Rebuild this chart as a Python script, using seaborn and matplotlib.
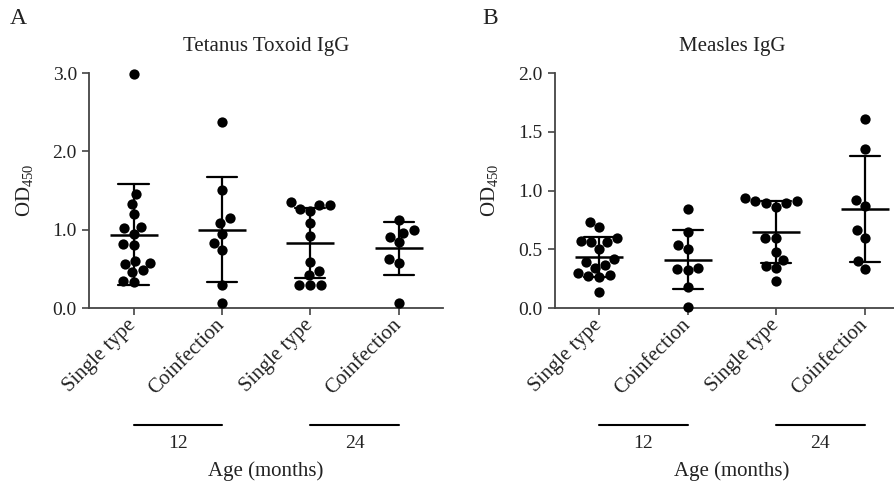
import numpy as np
import pandas as pd
import matplotlib
matplotlib.use("Agg")
import matplotlib.pyplot as plt
import matplotlib.transforms as mtransforms
import seaborn as sns

# Group labels along the x axis and the age each pair belongs to
categories = ["Single type", "Coinfection", "Single type", "Coinfection"]
ages = ["12", "12", "24", "24"]
age_title = "Age (months)"

# Tetanus toxoid IgG, OD450
tt_single_12 = [2.99, 1.45, 1.33, 1.20, 1.04, 1.02, 0.95, 0.80, 0.82, 0.58,
                0.56, 0.60, 0.46, 0.48, 0.33, 0.35]
tt_coinf_12 = [2.37, 1.51, 1.15, 1.08, 0.95, 0.83, 0.74, 0.30, 0.07]
tt_single_24 = [1.32, 1.27, 1.24, 1.31, 1.35, 1.09, 0.92, 0.59, 0.47, 0.42,
                0.29, 0.29, 0.29]
tt_coinf_24 = [1.12, 0.96, 0.99, 0.91, 0.84, 0.63, 0.57, 0.06]

# Measles IgG, OD450
ms_single_12 = [0.73, 0.69, 0.60, 0.56, 0.56, 0.57, 0.50, 0.39, 0.42, 0.37,
                0.34, 0.30, 0.27, 0.26, 0.28, 0.14]
ms_coinf_12 = [0.84, 0.65, 0.54, 0.50, 0.34, 0.32, 0.33, 0.18, 0.01]
ms_single_24 = [0.91, 0.89, 0.86, 0.89, 0.91, 0.94, 0.60, 0.60, 0.48, 0.41,
                0.36, 0.34, 0.23]
ms_coinf_24 = [1.61, 1.35, 0.92, 0.87, 0.66, 0.60, 0.40, 0.33]

panels = [
    ("A", "Tetanus Toxoid IgG", [tt_single_12, tt_coinf_12, tt_single_24, tt_coinf_24],
     3.0, [0.0, 1.0, 2.0, 3.0]),
    ("B", "Measles IgG", [ms_single_12, ms_coinf_12, ms_single_24, ms_coinf_24],
     2.0, [0.0, 0.5, 1.0, 1.5, 2.0]),
]

sns.set_style("ticks")
plt.rcParams["font.family"] = ["Liberation Serif", "DejaVu Serif"]
plt.rcParams["mathtext.fontset"] = "custom"
plt.rcParams["mathtext.rm"] = "Liberation Serif"

fig = plt.figure(figsize=(8.95, 4.84), dpi=100)
positions = [[0.0998, 0.3636, 0.395, 0.4855], [0.620, 0.3636, 0.3955, 0.4855]]
letter_x = [10 / 895, 482 / 895]

spine_color = "#444444"
text_color = "#222222"

for (letter, title, series, ymax, yticks), pos, lx in zip(panels, positions, letter_x):
    ax = fig.add_axes(pos)
    keys = [f"{a}|{c}" for a, c in zip(ages, categories)]
    df = pd.DataFrame({
        "group": np.concatenate([[k] * len(v) for k, v in zip(keys, series)]),
        "value": np.concatenate(series),
    })

    # mean line with +/- SD whiskers
    sns.pointplot(data=df, x="group", y="value", order=keys, errorbar="sd",
                  capsize=0.34, color="black", marker="_", markersize=35,
                  markeredgewidth=1.8, linestyle="none",
                  err_kws={"linewidth": 1.6}, ax=ax, zorder=2)
    # individual samples
    sns.swarmplot(data=df, x="group", y="value", order=keys, color="black",
                  size=7.4, ax=ax, zorder=3)
    for coll in ax.collections:
        coll.set_clip_on(False)
    for line in ax.lines:
        line.set_clip_on(False)

    ax.set_xlim(-0.5, 3.5)
    ax.set_ylim(0, ymax)
    ax.set_yticks(yticks)
    ax.set_yticklabels([f"{t:.1f}" for t in yticks], fontsize=14, color=text_color)
    ax.set_xticks(range(len(keys)))
    ax.set_xticklabels(categories, rotation=45, ha="right", va="center",
                       rotation_mode="anchor", fontsize=15, color=text_color)
    ax.tick_params(axis="both", length=5, width=1.2, color=spine_color)
    ax.tick_params(axis="x", pad=5)
    ax.tick_params(axis="y", pad=4)
    sns.despine(ax=ax)
    for s in ("left", "bottom"):
        ax.spines[s].set_color(spine_color)
        ax.spines[s].set_linewidth(1.3)

    ax.set_xlabel("")
    ax.set_ylabel("OD$_\\mathregular{450}$", fontsize=15, labelpad=12, color=text_color)
    ax.set_title(title, fontsize=15, pad=16, color=text_color)

    # age brackets under the group labels
    trans = mtransforms.blended_transform_factory(ax.transData, ax.transAxes)
    for start in (0, 2):
        ax.plot([start, start + 1], [-0.498, -0.498], transform=trans,
                color="black", lw=1.5, clip_on=False)
        ax.text(start + 0.5, -0.575, ages[start], transform=trans,
                ha="center", va="center", fontsize=14, color=text_color)
    ax.text(0.5, -0.695, age_title, transform=ax.transAxes,
            ha="center", va="center", fontsize=15, color=text_color)

    fig.text(lx, 1 - 8 / 484, letter, ha="left", va="top", fontsize=17,
             color=text_color)

fig.savefig("out.png", dpi=100)
